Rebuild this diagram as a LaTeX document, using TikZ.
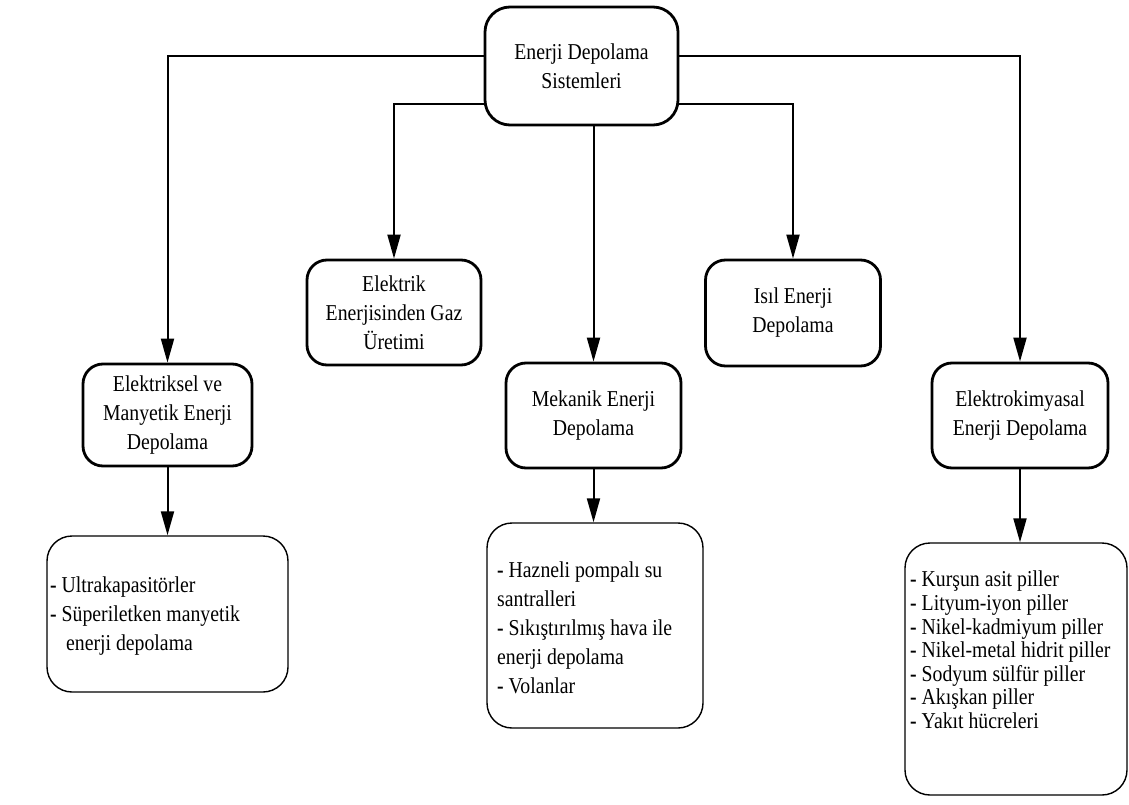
\documentclass[tikz,border=0pt]{standalone}
\usepackage{fontspec}
\setmainfont{Liberation Serif}[FakeStretch=0.87]
\usetikzlibrary{arrows.meta,calc}
\begin{document}
\begin{tikzpicture}[x=1pt,y=-1pt,
  every node/.style={font=\fontsize{22.7pt}{29pt}\selectfont},
  mainbox/.style={draw, line width=2.8pt, rounded corners=20pt, align=center, inner sep=0pt},
  listbox/.style={draw, line width=1.4pt, rounded corners=25pt, inner sep=0pt},
  listtext/.style={align=left, inner sep=0pt, anchor=base west},
  conn/.style={line width=2pt, -{Triangle[length=24pt,width=13pt]}},
  ]
\useasboundingbox (0,0) rectangle (1129,805);
\fill[white] (0,0) rectangle (1129,805);

% main boxes
\node[mainbox, rounded corners=25pt, minimum width=193, minimum height=118] (root) at (581.5,66) {Enerji Depolama\\Sistemleri};
\node[mainbox, minimum width=169, minimum height=102] (E1) at (167.5,415) {Elektriksel ve\\Manyetik Enerji\\Depolama};
\node[mainbox, minimum width=174, minimum height=105] (G) at (394,312.5) {Elektrik\\Enerjisinden Gaz\\Üretimi};
\node[mainbox, minimum width=175, minimum height=105] (M) at (593.5,415.5) {Mekanik Enerji\\Depolama};
\node[mainbox, minimum width=175, minimum height=106] (I) at (793,313) {Isıl Enerji\\Depolama};
\node[mainbox, minimum width=176, minimum height=105] (K) at (1020,415.5) {Elektrokimyasal\\Enerji Depolama};

% list boxes
\node[listbox, minimum width=241, minimum height=156] (L1) at (167.5,614) {};
\node[listbox, minimum width=216, minimum height=205] (L2) at (595,625.5) {};
\node[listbox, minimum width=222, minimum height=252] (L3) at (1016,669) {};

% texts: anchored at the baseline of their last line
\node[listtext] (L1t) at (50,650.5) {\textbf{-} Ultrakapasitörler\\\textbf{-} Süperiletken manyetik\\\hspace*{16pt}enerji depolama};
\node[listtext] (L2t) at (497,693) {\textbf{-} Hazneli pompalı su\\santralleri\\\textbf{-} Sıkıştırılmış hava ile\\enerji depolama\\\textbf{-} Volanlar};
\node[listtext, font=\fontsize{22.7pt}{23.6pt}\selectfont] (L3t) at (910,728.5) {\textbf{-} Kurşun asit piller\\\textbf{-} Lityum-iyon piller\\\textbf{-} Nikel-kadmiyum piller\\\textbf{-} Nikel-metal hidrit piller\\\textbf{-} Sodyum sülfür piller\\\textbf{-} Akışkan piller\\\textbf{-} Yakıt hücreleri};

% connectors
\draw[conn] ([yshift=10pt]root.west) -| (E1.north);
\draw[conn] ([yshift=-38pt]root.west) -| (G.north);
\draw[conn] (root.south -| M.north) -- (M.north);
\draw[conn] ([yshift=-38pt]root.east) -| (I.north);
\draw[conn] ([yshift=10pt]root.east) -| (K.north);
\draw[conn] (E1.south) -- (E1.south |- L1.north);
\draw[conn] (M.south) -- (M.south |- L2.north);
\draw[conn] (K.south) -- (K.south |- L3.north);
\end{tikzpicture}
\end{document}
